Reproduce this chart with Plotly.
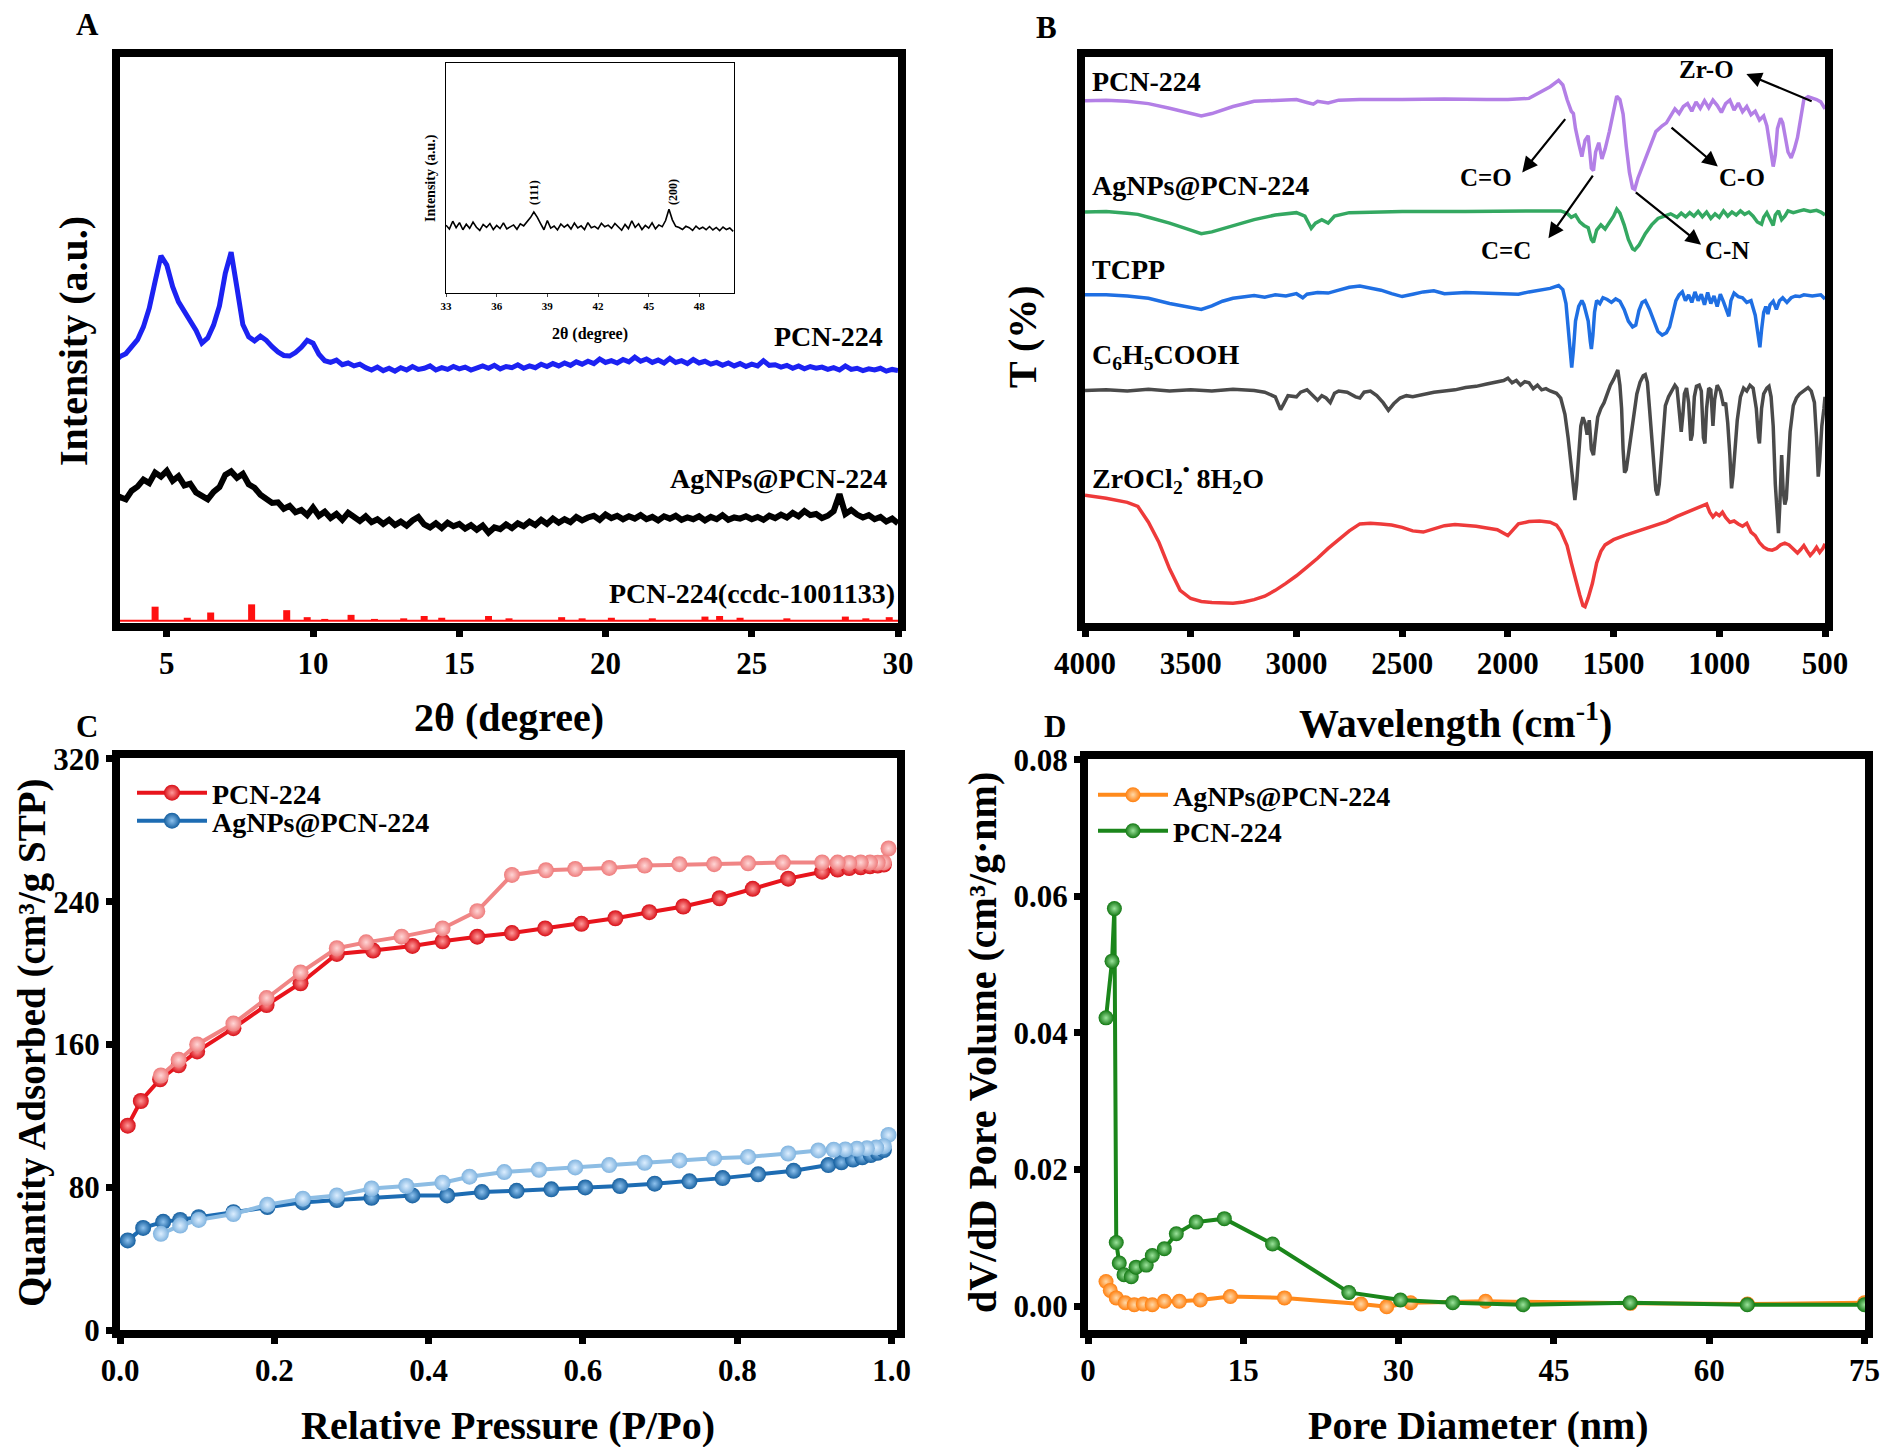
import numpy as np
import plotly.graph_objects as go

FONT = "Liberation Serif"
W, H = 1874, 1439

# ---------------- Panel A: XRD (frame units) ----------------
xrd_x = np.round(np.arange(3.2, 30.0001, 0.2), 1)
xrd_pcn = [46.0, 46.9, 47.4, 48.6, 49.8, 52.0, 55.2, 59.8, 64.2, 62.6,
           58.9, 56.3, 54.6, 53.1, 51.4, 49.2, 50.1, 52.3, 55.6, 61.2,
           64.8, 58.7, 52.4, 50.3, 49.6, 50.4, 49.7, 48.6, 47.7, 47.1,
           47.0, 47.6, 48.5, 49.7, 49.2, 47.3, 46.2, 45.9, 46.3, 45.5,
           45.8, 45.3, 45.6, 45.0, 44.6, 45.1, 44.5, 44.9, 44.4, 45.0,
           44.6, 45.2, 44.7, 44.9, 45.3, 44.6, 45.0, 44.7, 45.2, 44.8,
           45.1, 44.6, 45.0, 45.3, 44.9, 45.4, 44.8, 45.2, 45.0, 45.5,
           44.9, 45.3, 45.0, 45.6, 45.2, 45.7, 45.3, 45.8, 45.4, 46.0,
           45.6, 46.1, 45.7, 46.5, 45.9, 46.2, 45.8, 46.4, 46.0, 46.8,
           46.1, 46.5, 45.9, 46.3, 45.8, 46.6, 45.9, 46.2, 45.7, 46.4,
           45.8, 46.1, 45.6, 45.9, 45.4, 45.8, 45.3, 45.7, 45.2, 45.6,
           45.3, 46.2, 45.4, 45.5, 45.1, 45.4, 44.9, 45.3, 44.8, 45.2,
           44.9, 45.1, 44.7, 45.0, 44.6, 45.3, 44.7, 44.9, 44.5, 44.8,
           44.6, 44.9, 44.4, 44.7, 44.5]
xrd_ag = [21.9, 22.8, 22.4, 23.9, 24.6, 25.8, 25.2, 27.0, 26.3, 27.3,
          25.6, 26.4, 24.8, 25.1, 23.6, 23.0, 22.4, 23.7, 24.5, 26.6,
          27.2, 26.1, 26.8, 25.0, 24.4, 23.2, 22.6, 21.8, 21.9, 20.8,
          21.3, 20.2, 20.6, 19.7, 21.0, 19.6, 20.3, 19.2, 19.9, 18.9,
          20.1, 19.3, 18.7, 19.5, 18.5, 19.0, 18.2, 18.9, 18.0, 18.6,
          17.9, 18.8, 19.4, 18.1, 17.6, 18.3, 17.5, 18.4, 17.8, 18.2,
          17.4, 18.0, 17.2, 17.9, 16.7, 17.6, 17.3, 18.1, 17.5, 18.3,
          17.8, 18.6, 18.0, 18.9, 18.2, 19.1, 18.4, 19.0, 18.5, 19.4,
          18.8, 19.3, 19.6, 18.9, 19.8, 19.2, 19.6, 19.0, 19.5, 19.1,
          19.7, 19.0, 19.4, 18.8, 19.5, 19.1, 19.6, 18.9, 19.3, 19.0,
          19.5, 18.8, 19.4, 19.0, 19.7, 18.9, 19.3, 19.1, 19.5, 19.0,
          19.4, 18.9, 19.6, 19.2, 19.8, 19.3, 20.1, 19.5, 20.4, 19.7,
          19.9, 19.2, 19.6, 20.4, 23.3, 19.9, 20.6, 19.8, 19.3, 19.7,
          19.0, 19.4, 18.6, 19.1, 18.3]
ccdc_pos = [4.6, 5.7, 6.5, 7.9, 9.1, 9.8, 10.4, 11.3, 12.1, 13.1, 13.8, 14.4, 16.0,
            16.7, 18.5, 19.2, 20.2, 21.6, 23.4, 23.9, 24.6, 26.2, 28.2, 28.9, 29.7]
ccdc_h = [4.0, 2.1, 3.0, 4.4, 3.4, 2.2, 1.9, 2.6, 1.9, 2.0, 2.4, 2.1, 2.4,
          2.0, 2.2, 2.0, 2.1, 2.0, 2.3, 2.4, 2.1, 2.0, 2.3, 2.0, 2.2]
ccdc_base = 1.6

# inset (Ag reflections)
inset_x = np.round(np.arange(33.0, 50.0001, 0.2), 1)
inset_y = [29.5, 27.8, 31.2, 28.4, 30.6, 27.5, 29.9, 28.1, 30.8, 28.6,
           27.2, 29.8, 28.5, 30.2, 27.6, 29.4, 28.0, 30.5, 27.9, 28.8,
           29.6, 27.7, 30.1, 29.2, 31.0, 32.8, 35.2, 33.0, 30.2, 27.5,
           31.5, 28.2, 29.1, 27.4, 30.0, 28.6, 29.7, 27.8, 30.4, 28.3,
           29.2, 27.6, 30.6, 28.4, 29.0, 27.9, 30.3, 28.8, 29.5, 28.1,
           30.2, 28.6, 27.3, 29.8, 28.0, 31.4, 28.5, 30.1, 27.6, 29.4,
           28.2, 30.5, 27.9, 29.6, 28.8, 31.5, 36.4, 31.8, 29.0, 28.5,
           27.6, 29.0, 28.4, 27.2, 29.1, 27.8, 28.6, 27.5, 28.9, 27.4,
           28.5, 27.1, 28.7, 27.6, 28.3, 26.8]

# ---------------- Panel B: FTIR (wavenumber, frame units) ----------------
ir_pcn = [(4000, 90.8), (3900, 90.9), (3800, 90.7), (3700, 90.3), (3600, 89.5), (3500, 88.6),
          (3450, 88.2), (3400, 88.6), (3300, 89.8), (3200, 90.7), (3100, 90.9), (3000, 91.0),
          (2950, 90.5), (2920, 90.2), (2900, 90.7), (2850, 90.4), (2800, 90.9), (2700, 91.0),
          (2500, 91.0), (2300, 91.1), (2100, 91.0), (2000, 91.0), (1900, 91.2), (1850, 92.2),
          (1800, 93.2), (1760, 94.3), (1740, 93.5), (1720, 91.0), (1700, 89.0), (1690, 88.6),
          (1680, 86.0), (1665, 83.5), (1650, 81.2), (1635, 84.0), (1620, 84.8), (1605, 79.2),
          (1595, 78.8), (1585, 82.0), (1570, 83.6), (1555, 80.8), (1540, 82.5), (1520, 85.5),
          (1500, 89.0), (1485, 91.6), (1470, 91.0), (1455, 88.5), (1440, 83.0), (1425, 78.5),
          (1410, 75.8), (1400, 75.6), (1385, 77.5), (1360, 79.8), (1330, 82.5), (1300, 85.5),
          (1270, 86.5), (1250, 87.0), (1230, 88.2), (1210, 89.4), (1190, 88.6), (1170, 89.8),
          (1150, 90.3), (1130, 89.0), (1110, 90.6), (1090, 89.5), (1070, 90.8), (1050, 89.6),
          (1030, 90.9), (1010, 90.0), (990, 88.8), (970, 90.3), (950, 90.9), (930, 89.2),
          (910, 90.4), (890, 88.9), (870, 89.8), (850, 88.4), (830, 89.0), (810, 87.5),
          (790, 88.2), (775, 86.5), (760, 83.0), (745, 79.5), (735, 81.5), (725, 86.0),
          (710, 87.8), (700, 87.0), (690, 85.0), (675, 82.0), (660, 81.0), (645, 82.5),
          (630, 84.5), (615, 88.0), (600, 91.0), (580, 91.5), (560, 91.3), (540, 91.0),
          (520, 90.6), (500, 89.4)]
ir_ag = [(4000, 71.7), (3900, 71.8), (3800, 71.5), (3750, 71.3), (3700, 70.8), (3600, 69.8),
         (3500, 68.6), (3450, 68.0), (3400, 68.3), (3300, 69.3), (3200, 70.4), (3100, 71.2),
         (3000, 71.6), (2960, 71.0), (2930, 68.9), (2910, 69.8), (2880, 70.4), (2850, 69.8),
         (2820, 71.0), (2750, 71.6), (2500, 71.8), (2200, 71.8), (2000, 71.8), (1800, 71.8),
         (1750, 71.9), (1720, 71.5), (1700, 70.8), (1680, 71.2), (1660, 70.0), (1640, 69.4),
         (1620, 69.0), (1605, 67.0), (1595, 66.5), (1580, 68.6), (1560, 69.5), (1540, 68.8),
         (1520, 69.8), (1500, 71.0), (1485, 72.2), (1470, 71.5), (1450, 69.5), (1430, 67.0),
         (1410, 65.4), (1400, 65.2), (1380, 66.0), (1350, 68.0), (1320, 69.5), (1290, 70.6),
         (1260, 71.0), (1230, 71.4), (1200, 70.8), (1180, 71.5), (1160, 70.9), (1140, 71.6),
         (1120, 71.0), (1100, 71.8), (1080, 70.9), (1060, 71.7), (1040, 70.6), (1020, 71.4),
         (1000, 70.8), (980, 71.9), (960, 71.0), (940, 71.7), (920, 71.2), (900, 71.9),
         (880, 71.3), (860, 71.7), (840, 71.0), (820, 70.0), (800, 69.6), (790, 70.8),
         (775, 71.6), (760, 70.5), (745, 69.4), (735, 71.2), (720, 71.9), (705, 70.4),
         (690, 71.0), (675, 71.9), (650, 71.6), (620, 71.9), (600, 72.1), (570, 71.8),
         (540, 72.0), (520, 71.7), (500, 71.2)]
ir_tcpp = [(4000, 57.5), (3900, 57.5), (3800, 57.3), (3700, 56.9), (3600, 56.0), (3500, 55.3),
           (3450, 55.0), (3400, 55.6), (3350, 56.4), (3300, 56.9), (3250, 57.2), (3200, 57.4),
           (3150, 57.1), (3100, 57.5), (3050, 57.3), (3000, 57.7), (2970, 57.0), (2950, 57.6),
           (2900, 57.9), (2850, 57.8), (2800, 58.3), (2750, 58.8), (2700, 59.0), (2650, 58.7),
           (2600, 58.3), (2550, 57.7), (2500, 57.2), (2450, 57.6), (2400, 58.0), (2350, 58.2),
           (2300, 57.7), (2200, 57.9), (2100, 57.8), (2000, 57.8), (1950, 57.6), (1900, 58.0),
           (1850, 58.3), (1800, 58.6), (1760, 59.1), (1740, 58.4), (1725, 56.0), (1715, 52.0),
           (1705, 47.5), (1698, 45.0), (1690, 48.0), (1680, 53.0), (1665, 55.5), (1650, 56.5),
           (1640, 55.8), (1630, 54.5), (1620, 53.0), (1610, 49.5), (1605, 48.2), (1598, 50.5),
           (1590, 54.5), (1580, 56.5), (1565, 56.0), (1550, 57.0), (1530, 56.7), (1510, 56.2),
           (1490, 56.8), (1470, 56.4), (1450, 55.0), (1430, 53.0), (1410, 52.0), (1395, 52.3),
           (1380, 54.8), (1365, 56.2), (1350, 56.5), (1330, 55.0), (1310, 53.0), (1290, 51.2),
           (1270, 50.6), (1250, 51.0), (1235, 52.0), (1220, 54.0), (1205, 56.5), (1190, 57.5),
           (1175, 58.0), (1160, 56.5), (1145, 57.5), (1130, 56.2), (1115, 58.0), (1100, 56.5),
           (1085, 57.6), (1070, 55.8), (1055, 57.9), (1040, 56.0), (1025, 57.3), (1010, 55.5),
           (995, 57.6), (980, 56.3), (965, 54.5), (955, 53.8), (945, 56.5), (930, 57.8),
           (910, 57.2), (890, 57.0), (870, 56.2), (850, 56.5), (830, 54.0), (815, 49.5),
           (808, 48.5), (800, 51.5), (790, 54.5), (780, 55.5), (770, 54.2), (760, 55.8),
           (745, 56.4), (730, 55.0), (715, 56.5), (700, 57.0), (680, 56.2), (660, 57.0),
           (640, 57.3), (620, 57.2), (600, 57.5), (560, 57.3), (520, 57.5), (500, 56.8)]
ir_benzoic = [(4000, 41.1), (3900, 41.2), (3800, 41.0), (3700, 41.3), (3600, 41.0), (3500, 41.2),
              (3400, 41.0), (3300, 41.3), (3200, 41.1), (3150, 40.8), (3100, 40.0), (3075, 37.8),
              (3060, 38.8), (3040, 40.2), (3000, 40.0), (2980, 40.8), (2950, 41.2), (2920, 40.0),
              (2900, 39.4), (2880, 40.2), (2860, 39.8), (2840, 39.0), (2820, 40.6), (2800, 41.0),
              (2760, 40.8), (2720, 40.0), (2700, 39.8), (2680, 40.8), (2650, 41.0), (2620, 40.2),
              (2590, 39.0), (2565, 37.7), (2540, 38.8), (2510, 39.8), (2480, 40.2), (2450, 40.0),
              (2400, 40.4), (2350, 40.8), (2300, 41.0), (2250, 41.2), (2200, 41.6), (2150, 41.8),
              (2100, 42.2), (2050, 42.6), (2020, 42.8), (2000, 43.2), (1980, 42.4), (1960, 42.8),
              (1940, 42.0), (1920, 42.6), (1900, 42.4), (1880, 41.4), (1860, 42.0), (1840, 41.2),
              (1820, 41.4), (1800, 41.0), (1770, 40.6), (1750, 39.8), (1730, 37.0), (1715, 33.0),
              (1700, 27.5), (1690, 23.5), (1683, 22.3), (1675, 25.0), (1665, 31.0), (1655, 35.0),
              (1645, 36.5), (1635, 35.5), (1625, 33.5), (1615, 36.0), (1605, 31.0), (1595, 30.0),
              (1585, 33.5), (1575, 36.5), (1560, 38.0), (1545, 39.0), (1530, 40.5), (1515, 42.0),
              (1500, 43.0), (1490, 44.0), (1480, 44.6), (1470, 42.0), (1462, 38.0), (1455, 31.0),
              (1448, 27.0), (1440, 27.5), (1430, 30.0), (1420, 33.0), (1410, 36.0), (1400, 38.0),
              (1390, 40.5), (1375, 42.5), (1360, 43.6), (1350, 43.8), (1340, 42.5), (1330, 38.0),
              (1320, 33.0), (1310, 28.0), (1300, 24.0), (1292, 23.1), (1284, 25.0), (1275, 29.0),
              (1265, 34.5), (1255, 38.5), (1240, 40.0), (1225, 41.0), (1210, 42.0), (1200, 41.5),
              (1190, 38.0), (1180, 34.0), (1172, 37.0), (1165, 40.5), (1155, 41.5), (1145, 39.0),
              (1135, 32.5), (1128, 33.5), (1118, 40.0), (1108, 41.8), (1095, 42.0), (1085, 41.0),
              (1075, 33.0), (1068, 32.0), (1060, 38.0), (1050, 41.5), (1040, 41.2), (1030, 35.0),
              (1022, 39.5), (1010, 42.0), (995, 41.0), (980, 38.5), (970, 39.0), (960, 35.5),
              (950, 30.0), (942, 24.3), (935, 26.5), (925, 31.0), (915, 36.0), (900, 40.0),
              (885, 41.5), (870, 41.0), (855, 42.0), (840, 41.5), (825, 38.0), (815, 33.0),
              (810, 32.0), (800, 38.0), (790, 40.5), (775, 41.5), (765, 41.8), (755, 40.0),
              (745, 35.0), (735, 25.0), (725, 17.5), (720, 16.6), (713, 22.0), (705, 30.0),
              (698, 24.0), (690, 21.5), (683, 22.5), (675, 27.0), (665, 34.0), (650, 38.5),
              (635, 39.8), (620, 40.5), (600, 41.0), (580, 41.6), (565, 41.0), (550, 39.0),
              (540, 33.0), (532, 26.3), (525, 29.0), (515, 35.0), (505, 38.0), (500, 40.0)]
ir_zr = [(4000, 23.1), (3900, 22.6), (3800, 21.9), (3750, 21.2), (3700, 18.5), (3650, 15.0),
         (3600, 10.5), (3550, 6.8), (3500, 5.4), (3450, 4.9), (3400, 4.7), (3350, 4.6),
         (3300, 4.6), (3250, 4.8), (3200, 5.2), (3150, 5.8), (3100, 6.8), (3050, 8.0),
         (3000, 9.3), (2950, 10.8), (2900, 12.3), (2850, 14.0), (2800, 15.5), (2750, 17.0),
         (2700, 18.2), (2650, 18.3), (2600, 18.2), (2550, 18.0), (2500, 17.6), (2450, 17.0),
         (2400, 16.8), (2350, 17.3), (2300, 17.9), (2250, 18.1), (2200, 18.0), (2150, 17.8),
         (2100, 17.5), (2050, 17.2), (2000, 16.2), (1980, 17.0), (1950, 18.2), (1900, 18.6),
         (1850, 18.7), (1800, 18.5), (1770, 18.0), (1750, 17.0), (1720, 14.5), (1700, 11.5),
         (1680, 8.5), (1660, 6.0), (1645, 4.2), (1635, 4.0), (1620, 5.5), (1600, 8.0),
         (1580, 11.5), (1560, 13.5), (1540, 14.6), (1500, 15.5), (1450, 16.2), (1400, 16.8),
         (1350, 17.4), (1300, 18.0), (1250, 18.6), (1200, 19.5), (1150, 20.2), (1100, 20.9),
         (1080, 21.2), (1060, 21.6), (1045, 20.2), (1030, 19.4), (1015, 20.0), (1000, 19.6),
         (985, 20.2), (970, 19.3), (950, 18.5), (930, 18.7), (910, 18.2), (890, 17.8),
         (870, 18.3), (850, 16.8), (830, 16.2), (810, 15.0), (790, 14.2), (770, 13.8),
         (750, 13.7), (730, 14.0), (710, 14.6), (690, 14.9), (670, 14.6), (650, 13.9),
         (630, 13.2), (615, 13.8), (600, 14.5), (585, 13.6), (570, 12.8), (555, 13.4),
         (540, 14.2), (525, 13.3), (510, 14.0), (500, 14.8)]

# ---------------- Panel C: N2 isotherms ----------------
pcn_ads_p = [0.010, 0.027, 0.052, 0.076, 0.100, 0.147, 0.190, 0.234, 0.281, 0.328, 0.379, 0.418,
             0.463, 0.508, 0.551, 0.598, 0.642, 0.686, 0.730, 0.777, 0.820, 0.866, 0.910, 0.930,
             0.945, 0.960, 0.972, 0.982, 0.990]
pcn_ads_q = [114.5, 128.3, 140.5, 148.3, 156.1, 169.1, 182.1, 194.3, 210.7, 212.6, 215.2, 217.8,
             220.4, 222.4, 225.0, 227.6, 230.7, 234.1, 237.3, 241.9, 247.2, 252.9, 256.8, 258.0,
             258.8, 259.3, 259.8, 260.2, 260.8]
pcn_des_p = [0.996, 0.990, 0.982, 0.972, 0.960, 0.945, 0.930, 0.910, 0.859, 0.814, 0.770, 0.725,
             0.680, 0.634, 0.590, 0.552, 0.508, 0.463, 0.418, 0.365, 0.319, 0.281, 0.234, 0.190,
             0.147, 0.100, 0.076, 0.053]
pcn_des_q = [269.8, 262.0, 261.8, 261.9, 262.0, 261.7, 261.9, 262.0, 261.9, 261.5, 261.0, 261.0,
             260.2, 258.9, 258.3, 257.6, 255.0, 234.7, 225.0, 220.4, 217.2, 213.9, 200.3, 186.0,
             171.7, 160.0, 151.4, 142.6]
ag_ads_p = [0.010, 0.030, 0.056, 0.078, 0.102, 0.147, 0.191, 0.237, 0.281, 0.326, 0.379, 0.424,
            0.469, 0.514, 0.559, 0.603, 0.648, 0.693, 0.738, 0.781, 0.827, 0.873, 0.918, 0.935,
            0.950, 0.962, 0.973, 0.982, 0.990]
ag_ads_q = [50.2, 57.2, 60.6, 61.7, 63.2, 66.0, 68.9, 71.5, 72.8, 74.1, 75.4, 75.4,
            77.3, 78.0, 78.8, 79.9, 80.7, 82.0, 83.3, 85.1, 87.2, 89.2, 92.4, 94.0,
            95.5, 96.8, 98.0, 99.3, 100.8]
ag_des_p = [0.996, 0.990, 0.980, 0.968, 0.955, 0.940, 0.925, 0.905, 0.866, 0.814, 0.770, 0.725,
            0.680, 0.634, 0.590, 0.543, 0.498, 0.453, 0.418, 0.371, 0.326, 0.281, 0.237, 0.191,
            0.147, 0.102, 0.078, 0.053]
ag_des_q = [109.3, 103.0, 102.2, 101.8, 101.5, 101.2, 101.0, 100.6, 98.9, 97.0, 96.3, 95.0,
            93.7, 92.4, 91.1, 89.8, 88.5, 85.9, 82.5, 80.7, 79.3, 75.4, 73.6, 70.2,
            65.0, 61.7, 58.5, 53.9]

# ---------------- Panel D: pore size distribution ----------------
psd_ag_d = [1.74, 2.15, 2.73, 3.6, 4.47, 5.34, 6.21, 7.37, 8.82, 10.85, 13.75, 18.98,
            26.36, 28.85, 31.17, 38.4, 52.4, 63.7, 75.0]
psd_ag_v = [0.0036, 0.0023, 0.0012, 0.0005, 0.0002, 0.0003, 0.0002, 0.0007, 0.0007, 0.0009,
            0.0014, 0.0012, 0.0003, -0.0001, 0.0005, 0.0007, 0.0004, 0.0003, 0.0005]
psd_pcn_d = [1.74, 2.32, 2.55, 2.73, 3.02, 3.48, 4.18, 4.64, 5.63, 6.21, 7.37, 8.53, 10.45,
             13.17, 17.82, 25.19, 30.18, 35.23, 42.02, 52.36, 63.68, 75.0]
psd_pcn_v = [0.0422, 0.0505, 0.0582, 0.0093, 0.0063, 0.0046, 0.0043, 0.0057, 0.0060, 0.0074,
             0.0084, 0.0106, 0.0123, 0.0128, 0.0091, 0.0020, 0.0009, 0.0005, 0.0002, 0.0005,
             0.0002, 0.0002]


# --- helpers: page pixels -> paper coords (body has an 8px margin) ---
def px(x):
    return (x - 8) / W


def py(y):
    return 1 - (y - 8) / H


def bold(size):
    return dict(family=FONT, size=size, color="black", weight="bold")


fig = go.Figure()

# --- A ---
fig.add_trace(go.Scatter(x=xrd_x, y=xrd_pcn, mode="lines", line=dict(color="#1c22f2", width=5),
                         xaxis="x", yaxis="y", showlegend=False))
fig.add_trace(go.Scatter(x=xrd_x, y=xrd_ag, mode="lines", line=dict(color="black", width=6),
                         xaxis="x", yaxis="y", showlegend=False))
fig.add_trace(go.Scatter(x=[3.2, 30.2], y=[ccdc_base, ccdc_base], mode="lines",
                         line=dict(color="#ff1010", width=2), xaxis="x", yaxis="y", showlegend=False))
sx, sy = [], []
for p, h in zip(ccdc_pos, ccdc_h):
    sx += [p, p, None]
    sy += [ccdc_base, h, None]
fig.add_trace(go.Scatter(x=sx, y=sy, mode="lines", line=dict(color="#ff1010", width=7),
                         xaxis="x", yaxis="y", showlegend=False))
fig.add_trace(go.Scatter(x=inset_x, y=inset_y, mode="lines", line=dict(color="black", width=1.6),
                         xaxis="x5", yaxis="y5", showlegend=False))

# --- B ---
ir_series = [(ir_pcn, "#b37fe6"), (ir_ag, "#34a861"), (ir_tcpp, "#1f6fe3"),
             (ir_benzoic, "#4a4a4a"), (ir_zr, "#ee3a3a")]
for data, col in ir_series:
    wn, t = zip(*data)
    fig.add_trace(go.Scatter(x=wn, y=t, mode="lines", line=dict(color=col, width=3.5),
                             xaxis="x2", yaxis="y2", showlegend=False))


# --- C ---
def ball(dark, light, size):
    return dict(size=size, color=dark, gradient=dict(type="radial", color=light), line=dict(width=0))


fig.add_trace(go.Scatter(x=pcn_ads_p, y=pcn_ads_q, mode="lines+markers", name="PCN-224",
                         line=dict(color="#e8141c", width=4), marker=ball("#d80f17", "#ff9a9a", 16),
                         xaxis="x3", yaxis="y3", legend="legend"))
fig.add_trace(go.Scatter(x=pcn_des_p, y=pcn_des_q, mode="lines+markers", showlegend=False,
                         line=dict(color="#f08585", width=4), marker=ball("#ee7b7b", "#ffd6d6", 16),
                         xaxis="x3", yaxis="y3"))
fig.add_trace(go.Scatter(x=ag_ads_p, y=ag_ads_q, mode="lines+markers", name="AgNPs@PCN-224",
                         line=dict(color="#1d6cb3", width=4), marker=ball("#155f9f", "#8ec2ee", 16),
                         xaxis="x3", yaxis="y3", legend="legend3"))
fig.add_trace(go.Scatter(x=ag_des_p, y=ag_des_q, mode="lines+markers", showlegend=False,
                         line=dict(color="#8dbde4", width=4), marker=ball("#7fb3df", "#dceeff", 16),
                         xaxis="x3", yaxis="y3"))

# --- D ---
fig.add_trace(go.Scatter(x=psd_ag_d, y=psd_ag_v, mode="lines+markers", name="AgNPs@PCN-224",
                         line=dict(color="#ff8a1c", width=4), marker=ball("#ff7f0e", "#ffd9a8", 15),
                         xaxis="x4", yaxis="y4", legend="legend2"))
fig.add_trace(go.Scatter(x=psd_pcn_d, y=psd_pcn_v, mode="lines+markers", name="PCN-224",
                         line=dict(color="#1b861b", width=4), marker=ball("#137813", "#9be39b", 15),
                         xaxis="x4", yaxis="y4", legend="legend4"))


def frame(**kw):
    d = dict(showgrid=False, zeroline=False, showline=True, linecolor="black", linewidth=8,
             mirror=True, ticks="outside", ticklen=6, tickwidth=7, tickcolor="black",
             tickfont=bold(31), automargin=False, ticklabeloverflow="allow")
    d.update(kw)
    return d


def leg(x, y):
    return dict(x=px(x), y=py(y), xanchor="left", yanchor="middle", font=bold(28),
                bgcolor="rgba(0,0,0,0)", itemwidth=70, tracegroupgap=0)


rowA = [py(623), py(57)]

fig.update_layout(
    width=W, height=H,
    margin=dict(l=0, r=0, t=0, b=0),
    paper_bgcolor="white", plot_bgcolor="white",
    font=dict(family=FONT, color="black"),
    xaxis=frame(domain=[px(120), px(898)], range=[3.4, 30.0], tickvals=[5, 10, 15, 20, 25, 30], anchor="y"),
    yaxis=frame(domain=rowA, range=[1.2, 98.3], showticklabels=False, ticks="", anchor="x"),
    xaxis2=frame(domain=[px(1085), px(1825)], range=[4000, 500],
                 tickvals=[4000, 3500, 3000, 2500, 2000, 1500, 1000, 500], anchor="y2"),
    yaxis2=frame(domain=rowA, range=[1.2, 98.3], showticklabels=False, ticks="", anchor="x2"),
    xaxis3=frame(domain=[px(120), px(897)], range=[0, 1.007], tickvals=[0, 0.2, 0.4, 0.6, 0.8, 1.0],
                 ticktext=["0.0", "0.2", "0.4", "0.6", "0.8", "1.0"], anchor="y3"),
    yaxis3=frame(domain=[py(1330), py(758)], range=[0, 320.5], tickvals=[0, 80, 160, 240, 320], anchor="x3"),
    xaxis4=frame(domain=[px(1088), px(1865)], range=[0, 75.05], tickvals=[0, 15, 30, 45, 60, 75], anchor="y4"),
    yaxis4=frame(domain=[py(1330), py(759)], range=[-0.0035, 0.0801], tickvals=[0, 0.02, 0.04, 0.06, 0.08],
                 ticktext=["0.00", "0.02", "0.04", "0.06", "0.08"], anchor="x4"),
    xaxis5=dict(domain=[px(446), px(734)], range=[33, 50.05], showgrid=False, zeroline=False,
                showline=True, linecolor="black", linewidth=1.3, mirror=True, ticks="outside",
                ticklen=3, tickwidth=1, tickvals=[33, 36, 39, 42, 45, 48], tickfont=bold(11),
                anchor="y5", automargin=False),
    yaxis5=dict(domain=[py(293), py(63)], range=[0, 100], showgrid=False, zeroline=False,
                showline=True, linecolor="black", linewidth=1.3, mirror=True, showticklabels=False,
                anchor="x5", automargin=False),
    legend=leg(132, 793),
    legend3=leg(132, 821),
    legend2=leg(1093, 795),
    legend4=leg(1093, 831),
)

ann = []


def label(text, x, y, size, xanchor="center", angle=0):
    ann.append(dict(text=text, x=px(x), y=py(y), xref="paper", yref="paper", xanchor=xanchor,
                    yanchor="middle", showarrow=False, textangle=angle, font=bold(size)))


# panel letters
label("A", 87, 25, 31)
label("B", 1046, 27, 31)
label("C", 87, 726, 31)
label("D", 1055, 726, 31)

# axis titles
label("2θ (degree)", 509, 717, 40)
label("Intensity (a.u.)", 73, 341, 40, angle=-90)
label("Wavelength (cm<sup>-1</sup>)", 1455, 720, 40)
label("T (%)", 1022, 337, 40, angle=-90)
label("Relative Pressure (P/Po)", 508, 1425, 40)
label("Quantity Adsorbed (cm³/g STP)", 32, 1043, 39, angle=-90)
label("Pore Diameter (nm)", 1478, 1425, 40)
label("dV/dD Pore Volume (cm³/g·nm)", 982, 1043, 40, angle=-90)

# panel A curve labels
label("PCN-224", 885, 336, 28, xanchor="right")
label("AgNPs@PCN-224", 889, 479, 28, xanchor="right")
label("PCN-224(ccdc-1001133)", 897, 593, 28, xanchor="right")

# inset labels
label("2θ (degree)", 590, 334, 16)
label("Intensity (a.u.)", 431, 178, 14, angle=-90)
label("(111)", 534, 193, 12, angle=-90)
label("(200)", 673, 192, 12, angle=-90)

# panel B curve labels
label("PCN-224", 1090, 82, 28, xanchor="left")
label("AgNPs@PCN-224", 1090, 185, 28, xanchor="left")
label("TCPP", 1090, 269, 28, xanchor="left")
label("C<sub>6</sub>H<sub>5</sub>COOH", 1090, 356, 28, xanchor="left")
label("ZrOCl<sub>2</sub><sup>•</sup> 8H<sub>2</sub>O", 1090, 479, 28, xanchor="left")

# band assignments
label("Zr-O", 1706, 69, 25)
label("C=O", 1486, 177, 25)
label("C=C", 1506, 250, 25)
label("C-N", 1727, 250, 25)
label("C-O", 1742, 177, 25)

# arrows: head near label, tail on the PCN-224 curve (wavenumber, frame units)
band_arrows = [(872, 95.4, 556, 90.6), (1932, 78.5, 1723, 87.9), (1808, 67.2, 1593, 78.2),
               (1086, 66.1, 1402, 75.3), (1007, 79.5, 1233, 86.4)]
for hx, hy, tx, ty in band_arrows:
    ann.append(dict(x=hx, y=hy, ax=tx, ay=ty, xref="x2", yref="y2", axref="x2", ayref="y2",
                    text="", showarrow=True, arrowhead=2, arrowsize=1.4, arrowwidth=2.2,
                    arrowcolor="black"))

fig.update_layout(annotations=ann)

fig.write_html("out.html")
